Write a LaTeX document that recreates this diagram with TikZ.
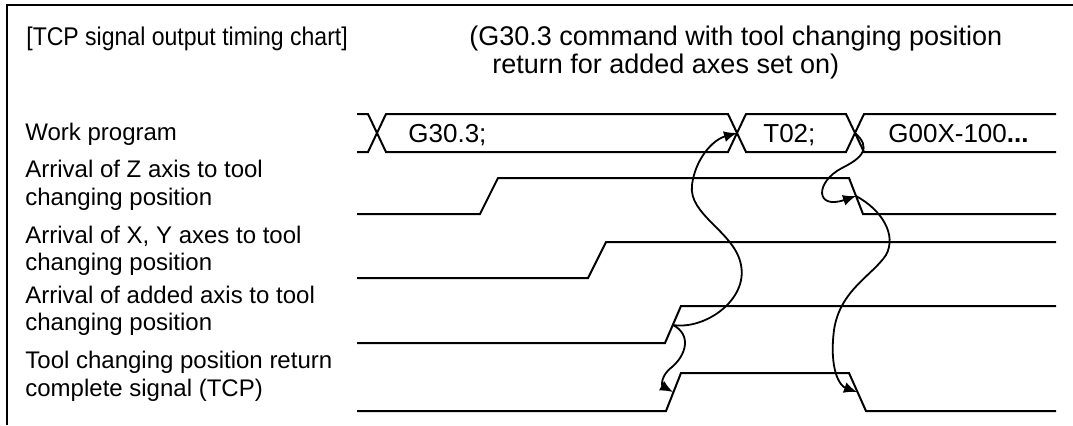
\documentclass[tikz,border=0pt]{standalone}
\usepackage{fontspec}
\setmainfont{Liberation Sans}
\usetikzlibrary{arrows.meta}
\begin{document}
\begin{tikzpicture}[x=0.5pt,y=-0.5pt,
  sig/.style={line width=1pt, line join=miter},
  lbl/.style={anchor=base west, inner sep=0pt, font=\fontsize{12}{14}\selectfont},
  bus/.style={lbl, font=\fontsize{13}{15}\selectfont},
  ttl/.style={lbl, font=\fontsize{13.5}{16}\selectfont},
  link/.style={line width=0.9pt, -{Latex[length=6.5pt,width=5.5pt]}}]
\useasboundingbox (0,0) rectangle (1073,425);
% frame
\draw[line width=1pt] (1073,5) -- (7,5) -- (7,425);
% titles
\node[lbl, font=\fontsize{12.8}{15}\selectfont, xscale=0.9] (t1) at (26,45) {[TCP signal output timing chart]};
\node[ttl] (t2) at (469,45) {(G30.3 command with tool changing position};
\node[ttl] (t3) at (492,73) {return for added axes set on)};
% labels
\node[lbl] (l1) at (25,140) {Work program};
\node[lbl] (l2a) at (25,177) {Arrival of Z axis to tool};
\node[lbl] (l2b) at (25,205) {changing position};
\node[lbl] (l3a) at (25,243) {Arrival of X, Y axes to tool};
\node[lbl] (l3b) at (25,270) {changing position};
\node[lbl] (l4a) at (25,303) {Arrival of added axis to tool};
\node[lbl] (l4b) at (25,330) {changing position};
\node[lbl] (l5a) at (25,368) {Tool changing position return};
\node[lbl] (l5b) at (25,396) {complete signal (TCP)};
% work program bus
\draw[sig] (357,114) -- (368,114) -- (386,152) -- (728,152) -- (746,114) -- (846,114) -- (864,152) -- (1056,152);
\draw[sig] (357,152) -- (368,152) -- (386,114) -- (728,114) -- (746,152) -- (846,152) -- (864,114) -- (1056,114);
\node[bus] (b1) at (408,142) {G30.3;};
\node[bus] (b2) at (763,142) {T02;};
\node[bus] (b3) at (888,142) {G00X-100\textbf{...}};
\coordinate (x2) at (737,133);
\coordinate (x3) at (855,133);
% Z axis
\draw[sig] (357,214) -- (480,214) -- (498,178) -- (849,178) -- (863,214) -- (1056,214);
% X, Y axes
\draw[sig] (357,278) -- (588,278) -- (606,242) -- (1056,242);
% added axis
\draw[sig] (357,343) -- (665,343) -- (681,306) -- (1056,306);
% TCP
\draw[sig] (357,411) -- (666,411) -- (681,373) -- (849,373) -- (866,411) -- (1056,411);
% edge points
\coordinate (zf) at (856,196);
\coordinate (ar) at (673,325);
\coordinate (tr) at (673,392);
\coordinate (tf) at (857,392);
% causal arrows
\draw[link] (ar) .. controls (705,330) and (748,300) .. (741,265)
  .. controls (735,232) and (688,215) .. (692,185)
  .. controls (695,160) and (712,140) .. (x2);
\draw[link] (ar) .. controls (692,335) and (686,355) .. (672,367)
  .. controls (660,376) and (662,386) .. (tr);
\draw[link] (x3) .. controls (872,148) and (862,158) .. (842,168)
  .. controls (815,182) and (815,210) .. (zf);
\draw[link] (zf) .. controls (882,210) and (897,235) .. (886,255)
  .. controls (872,276) and (840,290) .. (834,330)
  .. controls (829,370) and (840,386) .. (tf);
\end{tikzpicture}
\end{document}
